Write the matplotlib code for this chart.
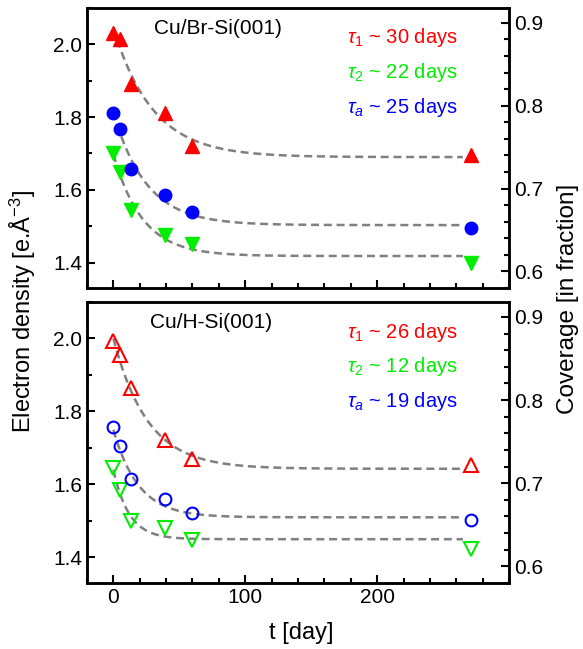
import numpy as np
import matplotlib
matplotlib.use("Agg")
import matplotlib.pyplot as plt
from matplotlib.ticker import MultipleLocator

plt.rcParams['font.family'] = ['Liberation Sans', 'DejaVu Sans']
plt.rcParams['mathtext.fontset'] = 'custom'
plt.rcParams['mathtext.rm'] = 'Liberation Sans'
plt.rcParams['mathtext.it'] = 'Liberation Sans:italic'

# measurement days
days = [0, 5, 13, 39, 60, 271]

# Cu/Br-Si(001)
br_red = [2.03, 2.015, 1.89, 1.81, 1.72, 1.695]
br_green = [1.70, 1.65, 1.545, 1.475, 1.45, 1.40]
br_blue = [1.81, 1.767, 1.657, 1.585, 1.54, 1.495]

# Cu/H-Si(001)
h_red = [1.992, 1.955, 1.864, 1.721, 1.67, 1.652]
h_green = [1.645, 1.585, 1.50, 1.481, 1.447, 1.424]
h_blue = [1.757, 1.705, 1.616, 1.561, 1.523, 1.502]

# fit parameters: (asymptote, amplitude, tau)
br_fits = [(1.690, 0.355, 30), (1.418, 0.280, 22), (1.503, 0.310, 25)]
h_fits = [(1.643, 0.357, 26), (1.450, 0.190, 12), (1.510, 0.240, 19)]

br_labels = [r'$\tau_1$ ~ 30 days', r'$\tau_2$ ~ 22 days', r'$\tau_a$ ~ 25 days']
h_labels = [r'$\tau_1$ ~ 26 days', r'$\tau_2$ ~ 12 days', r'$\tau_a$ ~ 19 days']

RED = '#ff0000'
GREEN = '#00ee00'
BLUE = '#0000ff'
FS = 15


def style_axis(ax, ax2):
    ax.set_xlim(-20, 300)
    ax.set_ylim(1.33, 2.10)
    ax2.set_ylim(0.58, 0.918)
    ax.xaxis.set_major_locator(MultipleLocator(100))
    ax.xaxis.set_minor_locator(MultipleLocator(20))
    ax.yaxis.set_major_locator(MultipleLocator(0.2))
    ax.yaxis.set_minor_locator(MultipleLocator(0.1))
    ax2.yaxis.set_major_locator(MultipleLocator(0.1))
    ax2.yaxis.set_minor_locator(MultipleLocator(0.02))
    for a in (ax, ax2):
        for s in a.spines.values():
            s.set_linewidth(1.8)
        a.tick_params(which='both', direction='in', width=1.5, labelsize=FS)
        a.tick_params(which='major', length=6)
        a.tick_params(which='minor', length=3.5)
    ax.tick_params(which='both', top=False, right=False)
    ax2.tick_params(which='both', left=False, top=False)


def panel(ax, red, green, blue, fits, labels, title, title_x, filled):
    ax2 = ax.twinx()
    tfit = np.linspace(0, 265, 200)
    for a, b, tau in fits:
        ax.plot(tfit, a + b * np.exp(-tfit / tau), color='#808080', lw=1.8,
                dashes=(3.2, 1.9), zorder=1)
    if filled:
        ax.plot(days, red, '^', color=RED, ms=10, mec=RED, zorder=3)
        ax.plot(days, green, 'v', color=GREEN, ms=10, mec=GREEN, zorder=3)
        ax.plot(days, blue, 'o', color=BLUE, ms=9, mec=BLUE, zorder=3)
    else:
        ax.plot(days, red, '^', mfc='none', mec=RED, ms=10, mew=1.5, zorder=3)
        ax.plot(days, green, 'v', mfc='none', mec=GREEN, ms=10, mew=1.5, zorder=3)
        ax.plot(days, blue, 'o', mfc='none', mec=BLUE, ms=8.5, mew=1.5, zorder=3)
    ax.text(title_x, 0.928, title, transform=ax.transAxes, ha='center', va='center',
            fontsize=FS)
    for i, (lab, c) in enumerate(zip(labels, [RED, GREEN, BLUE])):
        ax.text(0.878, 0.893 - i * 0.124, lab, transform=ax.transAxes, ha='right',
                va='center', fontsize=14.5, color=c)
    style_axis(ax, ax2)
    return ax2


fig = plt.figure(figsize=(5.83, 6.49), dpi=100)
ax_top = fig.add_axes([0.1492, 0.5562, 0.7239, 0.4315])
ax_bot = fig.add_axes([0.1492, 0.1017, 0.7239, 0.4330])

panel(ax_top, br_red, br_green, br_blue, br_fits, br_labels, 'Cu/Br-Si(001)', 0.31, True)
panel(ax_bot, h_red, h_green, h_blue, h_fits, h_labels, 'Cu/H-Si(001)', 0.295, False)

ax_top.tick_params(labelbottom=False)
ax_bot.set_xticks([0, 100, 200])

fig.text(0.04, 0.52, r'Electron density [e.Å$^{-3}$]', rotation=90,
         ha='center', va='center', fontsize=17)
fig.text(0.974, 0.54, 'Coverage [in fraction]', rotation=90,
         ha='center', va='center', fontsize=17.5)
fig.text(0.517, 0.024, 't [day]', ha='center', va='center', fontsize=17)

fig.savefig('out.png', dpi=100)
